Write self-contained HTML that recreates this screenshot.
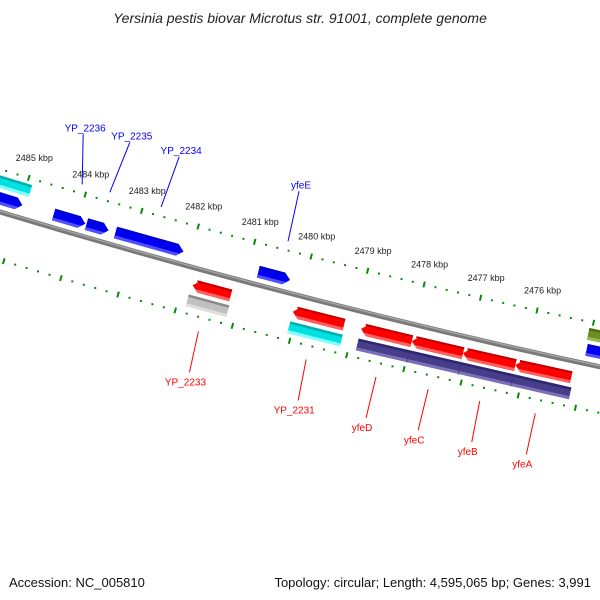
<!DOCTYPE html>
<html><head><meta charset="utf-8"><style>
html,body{margin:0;padding:0;background:#fff;}
svg{display:block;font-family:"Liberation Sans",sans-serif;}
</style></head><body>
<svg id="map" width="600" height="600" viewBox="0 0 600 600">
<text x="300" y="23" text-anchor="middle" font-size="14" font-style="italic" fill="#222">Yersinia pestis biovar Microtus str. 91001, complete genome</text>
<text x="9" y="587" font-size="13" fill="#111">Accession: NC_005810</text>
<text x="591" y="587" text-anchor="end" font-size="13" fill="#111">Topology: circular; Length: 4,595,065 bp; Genes: 3,991</text>
<g id="layer"></g>
</svg>
<script>
const majorTicks=[2486,2485,2484,2483,2482,2481,2480,2479,2478,2477,2476,2475,2474];
const tickLabels=["2486 kbp","2485 kbp","2484 kbp","2483 kbp","2482 kbp","2481 kbp","2480 kbp","2479 kbp","2478 kbp","2477 kbp","2476 kbp","2475 kbp","2474 kbp"];
const featStart=[2485.7,2484.42,2483.84,2483.33,2480.81,2475.02,2485.7,2475.05,2481.83,2480.07,2478.87,2477.98,2477.08,2476.16,2481.85,2480.07,2478.87];
const featEnd=[2484.97,2483.86,2483.45,2482.13,2480.25,2474.4,2484.91,2474.4,2481.16,2479.17,2477.98,2477.08,2476.16,2475.18,2481.14,2479.15,2475.14];
const featTrack=[-13,-13,-13,-13,-13,-13,-29,-29,17,17,17,17,17,17,33,33,33];
const featColor=["blue","blue","blue","blue","blue","blue","cyan","olive","red","red","red","red","red","red","gray","cyan","purple"];
const featDir=[1,1,1,1,1,1,0,0,-1,-1,-1,-1,-1,-1,0,0,0];
const labelNames=["YP_2236","YP_2235","YP_2234","yfeE","YP_2233","YP_2231","yfeD","yfeC","yfeB","yfeA"];
const labelKbp=[2484.1,2483.61,2482.70,2480.45,2481.53,2479.65,2478.43,2477.52,2476.62,2475.65];
const labelSide=[-1,-1,-1,-1,1,1,1,1,1,1];
const leaderLean=[1,20,18,11,-9,-8,-10,-10,-8,-9];
const palette={blue:["#0000c8","#0000f0","#5050ff"],cyan:["#00b0b0","#00e0e0","#80ffff"],olive:["#4f6b10","#6b8e23","#9ab85a"],red:["#c00000","#ff0000","#ff6060"],gray:["#8a8a8a","#c0c0c0","#e0e0e0"],purple:["#2c2870","#483d8b","#7a70b8"]};
const NS="http://www.w3.org/2000/svg";
const layer=document.getElementById("layer");
function bx(k){return 17+(2485-k)*56.8;}
function P(k,off){const t=bx(k)/600;const x=600*t;const y=(1-t)*(1-t)*212+2*t*(1-t)*303+t*t*366;
 const dx=600,dy=2*(1-t)*(303-212)+2*t*(366-303);const L=Math.hypot(dx,dy);
 return [x+off*(-dy/L),y+off*(dx/L)];}
function poly(pts,fill,name){const p=document.createElementNS(NS,"polygon");
 p.setAttribute("points",pts.map(q=>q[0].toFixed(1)+","+q[1].toFixed(1)).join(" "));p.setAttribute("fill",fill);
 
 
 layer.appendChild(p);return p;}
function line(a,b,color,w,name){const l=document.createElementNS(NS,"line");
 l.setAttribute("x1",a[0]);l.setAttribute("y1",a[1]);l.setAttribute("x2",b[0]);l.setAttribute("y2",b[1]);
 l.setAttribute("stroke",color);l.setAttribute("stroke-width",w);
 
 
 layer.appendChild(l);return l;}
function text(x,y,s,color,size,name){const t=document.createElementNS(NS,"text");
 t.setAttribute("x",x);t.setAttribute("y",y);t.setAttribute("font-size",size);t.setAttribute("fill",color);t.textContent=s;
 
 
 layer.appendChild(t);return t;}
const bb=document.createElementNS(NS,"path");
bb.setAttribute("d","M-10,209 Q300,303 610,369");bb.setAttribute("fill","none");bb.setAttribute("stroke","#7a7a7a");bb.setAttribute("stroke-width","5");


layer.appendChild(bb);
const bb2=document.createElementNS(NS,"path");
bb2.setAttribute("d","M-10,208 Q300,302 610,368");bb2.setAttribute("fill","none");bb2.setAttribute("stroke","#aaa");bb2.setAttribute("stroke-width","1.2");


layer.appendChild(bb2);
const rings=[-41,46];
rings.forEach((r,ri)=>{
 for(let i=0;i<majorTicks.length-1;i++){
  const k=majorTicks[i];
  line(P(k,r-3),P(k,r+3),"#0a8a0a",2,ri?"inner-major-tick":"outer-major-tick");
  for(let j=1;j<5;j++){const q=P(k-j*0.2,r);
   poly([[q[0]-1,q[1]-1],[q[0]+1,q[1]-1],[q[0]+1,q[1]+1],[q[0]-1,q[1]+1]],"#0a8a0a",ri?"inner-minor-tick":"outer-minor-tick");}
  if(ri===0){const q=P(k,r);if(q[0]-13>0 && q[0]+30<600){text(q[0]-13,q[1]-17,tickLabels[i],"#222",9,"tick-label");}}
 }
});
const head=0.11,h=12;
for(let i=0;i<featStart.length;i++){
 const s=featStart[i],e=featEnd[i],o=featTrack[i],d=featDir[i],c=palette[featColor[i]];
 const a=o-h/2,b=o+h/2;let pts,low;
 if(d===1){pts=[P(s,a),P(e+head,a),P(e,o),P(e+head,b),P(s,b)];low=[P(s,o+h/4),P(e+head*0.5,o+h/4),P(e+head,b),P(s,b)];}
 else if(d===-1){pts=[P(s-head,a),P(e,a),P(e,b),P(s-head,b),P(s,o)];low=[P(s-head*0.5,o+h/4),P(e,o+h/4),P(e,b),P(s-head,b)];}
 else {pts=[P(s,a),P(e,a),P(e,b),P(s,b)];low=[P(s,o+h/4),P(e,o+h/4),P(e,b),P(s,b)];}
 poly(pts,c[1],"feature-"+featColor[i]);
 poly(low,c[2],"feature-shade");
 const top=d===-1?[P(s-head*0.5,a),P(e,a),P(e,a+2),P(s-head*0.6,a+2)]:d===1?[P(s,a),P(e+head,a),P(e+head*0.9,a+2),P(s,a+2)]:[P(s,a),P(e,a),P(e,a+2.5),P(s,a+2.5)];
 poly(top,c[0],"feature-edge");
 if(featColor[i]==="purple"){for(const k of [2477.98,2477.08,2476.16]){line(P(k,a),P(k,b),"#3a3078",0.6,"segment-divider");}}
}
for(let i=0;i<labelNames.length;i++){
 const k=labelKbp[i],sd=labelSide[i],dx=leaderLean[i];
 if(sd<0){const a=P(k,-50),b=[a[0]+dx,a[1]-50];line(a,b,"#0000ff",1,"label-leader");
  const t=text(b[0]+2,b[1]-3,labelNames[i],"#0000ff",10,"feature-label");t.setAttribute("text-anchor","middle");}
 else{const a=P(k,60),b=[a[0]+dx,a[1]+41];line(a,b,"#ff0000",1,"label-leader");
  const t=text(b[0]-4,b[1]+13,labelNames[i],"#ff0000",10,"feature-label");t.setAttribute("text-anchor","middle");}
}
</script>
</body></html>
